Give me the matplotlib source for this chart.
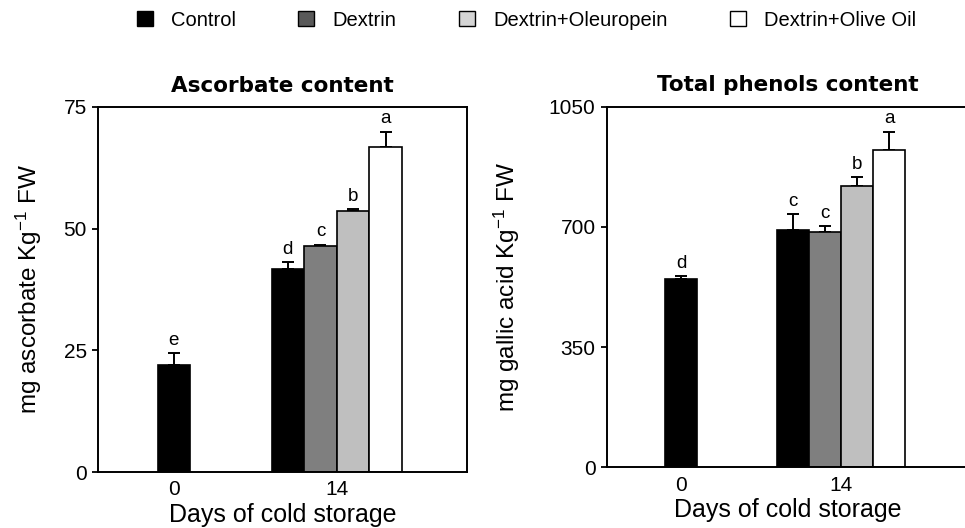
import matplotlib
matplotlib.use("Agg")
import matplotlib.pyplot as plt
from matplotlib.patches import Patch
import numpy as np

plt.rcParams['font.family'] = ['Liberation Sans', 'DejaVu Sans']
plt.rcParams['mathtext.fontset'] = 'custom'
plt.rcParams['mathtext.rm'] = 'Liberation Sans'
plt.rcParams['mathtext.it'] = 'Liberation Sans'
plt.rcParams['mathtext.default'] = 'regular'

# ---- data ----
treatments = ['Control', 'Dextrin', 'Dextrin+Oleuropein', 'Dextrin+Olive Oil']
bar_colors = ['#000000', '#7f7f7f', '#bfbfbf', '#ffffff']
legend_colors = ['#000000', '#595959', '#d4d4d4', '#ffffff']
day_labels = ['0', '14']

# day 0 (only control), day 14 (all treatments)
asc_day0 = [22.0]
asc_day0_err = [2.4]
asc_day0_let = ['e']
asc_day14 = [41.7, 46.4, 53.7, 66.7]
asc_day14_err = [1.4, 0.3, 0.3, 3.2]
asc_day14_let = ['d', 'c', 'b', 'a']

phe_day0 = [548]
phe_day0_err = [9]
phe_day0_let = ['d']
phe_day14 = [690, 684, 820, 924]
phe_day14_err = [47, 19, 24, 53]
phe_day14_let = ['c', 'c', 'b', 'a']

asc_ticks = [0, 25, 50, 75]
phe_ticks = [0, 350, 700, 1050]

W, H = 965, 528
fig = plt.figure(figsize=(W / 100, H / 100), dpi=100)

def px_axes(l, r, t, b):
    return [l / W, 1 - b / H, (r - l) / W, (b - t) / H]

ax1 = fig.add_axes(px_axes(98, 467, 107, 472))
ax2 = fig.add_axes(px_axes(606.7, 969, 106.7, 467.3))

group_centers = [0, 5]
bw = 1.0

def draw(ax, d0, d0e, d0l, d14, d14e, d14l, ticks, title, ylabel, ylab_x):
    # day 0 bar
    x0 = [group_centers[0]]
    ax.bar(x0, d0, width=bw, color=bar_colors[0], edgecolor='black', linewidth=1.2, zorder=2)
    ax.errorbar(x0, d0, yerr=[np.zeros(len(d0)), d0e], fmt='none', ecolor='black',
                elinewidth=1.4, capsize=4, capthick=1.4, zorder=1)
    # day 14 bars
    x14 = group_centers[1] + (np.arange(len(d14)) - (len(d14) - 1) / 2) * bw
    ax.bar(x14, d14, width=bw, color=bar_colors, edgecolor='black', linewidth=1.2, zorder=2)
    ax.errorbar(x14, d14, yerr=[np.zeros(len(d14)), d14e], fmt='none', ecolor='black',
                elinewidth=1.4, capsize=4, capthick=1.4, zorder=1)
    for xs, ys, es, ls in [(x0, d0, d0e, d0l), (x14, d14, d14e, d14l)]:
        for x, y, e, l in zip(xs, ys, es, ls):
            ax.annotate(l, (x, y + e), xytext=(0, 6), textcoords='offset points',
                        ha='center', va='baseline', fontsize=13.5)
    ax.set_xlim(-2.33, 9.0)
    ax.set_ylim(ticks[0], ticks[-1])
    ax.set_yticks(ticks)
    ax.set_yticklabels([str(t) for t in ticks])
    ax.set_xticks(group_centers)
    ax.set_xticklabels(day_labels)
    ax.tick_params(axis='x', length=0, pad=6, labelsize=15)
    ax.tick_params(axis='y', length=4, width=1.3, pad=4, labelsize=15, direction='out')
    for s in ax.spines.values():
        s.set_linewidth(1.4)
    ax.set_title(title, fontfamily='DejaVu Sans', fontweight='bold', fontsize=15.5, pad=11)
    ax.set_xlabel('Days of cold storage', fontsize=18, labelpad=2.5)
    ax.set_ylabel(ylabel, fontsize=17.5)
    ax.yaxis.set_label_coords(ylab_x, 0.5)

draw(ax1, asc_day0, asc_day0_err, asc_day0_let, asc_day14, asc_day14_err, asc_day14_let,
     asc_ticks, 'Ascorbate content', r'mg ascorbate Kg$^{-1}$ FW', -0.146)
draw(ax2, phe_day0, phe_day0_err, phe_day0_let, phe_day14, phe_day14_err, phe_day14_let,
     phe_ticks, 'Total phenols content', r'mg gallic acid Kg$^{-1}$ FW', -0.234)

handles = [Patch(facecolor=c, edgecolor='black', linewidth=1.0) for c in legend_colors]
fig.legend(handles, treatments, loc='center', bbox_to_anchor=(526.5 / W, 1 - 20 / H),
           ncol=4, frameon=False, fontsize=14.5, handlelength=0.8, handleheight=0.8,
           handletextpad=0.9, columnspacing=3.1, borderaxespad=0, borderpad=0)

fig.savefig('out.png', dpi=100)
